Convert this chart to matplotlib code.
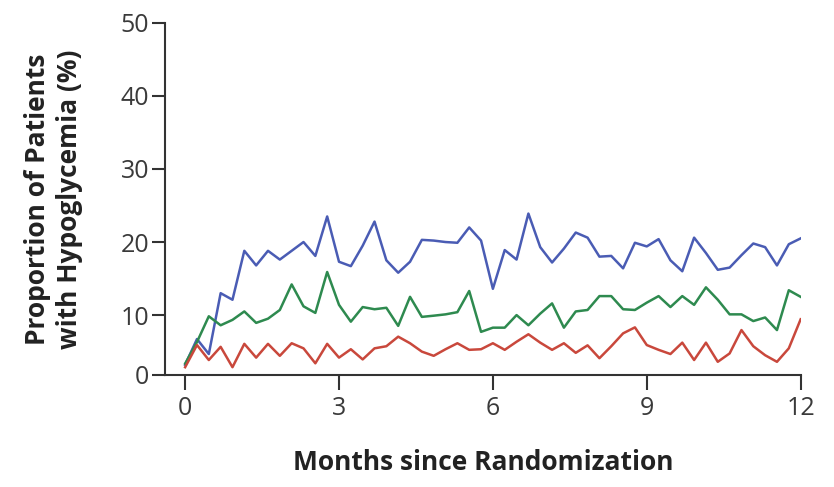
import numpy as np
import matplotlib.pyplot as plt

# weekly proportions (%) over the first 12 months
weeks = np.arange(53)
months = weeks * 12 / 52

blue_vals = [1.7, 6.0, 3.5, 13.0, 12.1, 18.8, 16.8, 18.8, 17.6, 18.8,
             20.0, 18.1, 23.5, 17.3, 16.7, 19.5, 22.8, 17.5, 15.8, 17.3,
             20.3, 20.2, 20.0, 19.9, 22.0, 20.2, 13.6, 18.9, 17.6, 23.9,
             19.3, 17.2, 19.1, 21.3, 20.6, 18.0, 18.1, 16.4, 19.9, 19.4,
             20.4, 17.5, 16.0, 20.6, 18.5, 16.2, 16.5, 18.2, 19.8, 19.3,
             16.8, 19.7, 20.5]
green_vals = [1.9, 5.5, 9.8, 8.3, 9.2, 10.5, 8.7, 9.4, 10.7, 14.2,
              11.2, 10.3, 15.9, 11.4, 8.9, 11.1, 10.8, 11.0, 8.2, 12.5,
              9.7, 9.9, 10.1, 10.4, 13.3, 7.2, 7.9, 7.9, 10.0, 8.3,
              10.2, 11.6, 7.9, 10.5, 10.7, 12.6, 12.6, 10.8, 10.7, 11.7,
              12.6, 11.1, 12.6, 11.4, 13.8, 12.1, 10.1, 10.1, 9.0, 9.6,
              7.5, 13.4, 12.5]
red_vals = [1.3, 5.0, 2.5, 4.7, 1.3, 5.2, 2.9, 5.2, 3.2, 5.3,
            4.45, 1.95, 5.2, 2.9, 4.3, 2.6, 4.45, 4.8, 6.4, 5.3,
            3.9, 3.2, 4.3, 5.3, 4.2, 4.3, 5.3, 4.2, 5.55, 6.8,
            5.4, 4.2, 5.3, 3.7, 4.95, 2.8, 4.8, 6.95, 7.95, 5.0,
            4.2, 3.5, 5.4, 2.5, 5.4, 2.2, 3.6, 7.5, 4.8, 3.3,
            2.2, 4.45, 9.3]

x_ticks = [0, 3, 6, 9, 12]
y_ticks = [0, 10, 20, 30, 40, 50]

plt.rcParams['font.family'] = ['Open Sans', 'DejaVu Sans']


# the original figure squeezes the 0-10 band a little
def fwd(y):
    y = np.asarray(y, dtype=float)
    return np.where(y < 10, y * 0.82, 8.2 + (y - 10))


def inv(u):
    u = np.asarray(u, dtype=float)
    return np.where(u < 8.2, u / 0.82, u - 8.2 + 10)


fig = plt.figure(figsize=(8.34, 4.87), dpi=100)
ax = fig.add_axes([0.198, 0.230, 0.762, 0.723])
ax.set_yscale('function', functions=(fwd, inv))

ax.plot(months, blue_vals, color='#4a5cb4', lw=1.8)
ax.plot(months, green_vals, color='#2e8a4f', lw=1.8)
ax.plot(months, red_vals, color='#c9483c', lw=1.8)

ax.set_xlim(-0.39, 12)
ax.set_ylim(0, 50)
ax.set_xticks(x_ticks)
ax.set_yticks(y_ticks)
ax.yaxis.set_minor_locator(plt.NullLocator())
ax.set_yticklabels([str(t) for t in y_ticks])

for side in ['top', 'right']:
    ax.spines[side].set_visible(False)
for side in ['left', 'bottom']:
    ax.spines[side].set_color('#333333')
    ax.spines[side].set_linewidth(1.5)

ax.tick_params(axis='y', length=9.5, width=1.5, color='#333333', pad=2,
               labelsize=18, labelcolor='#3a3a3a')
ax.tick_params(axis='x', length=11, width=1.5, color='#333333', pad=4,
               labelsize=18, labelcolor='#3a3a3a')

ax.set_xlabel('Months since Randomization', fontsize=19, fontweight='bold',
              labelpad=20, color='#222222')
ax.set_ylabel('Proportion of Patients\nwith Hypoglycemia (%)', fontsize=19,
              fontweight='bold', labelpad=27, color='#222222', linespacing=1.25)

plt.savefig('out.png', dpi=100)
